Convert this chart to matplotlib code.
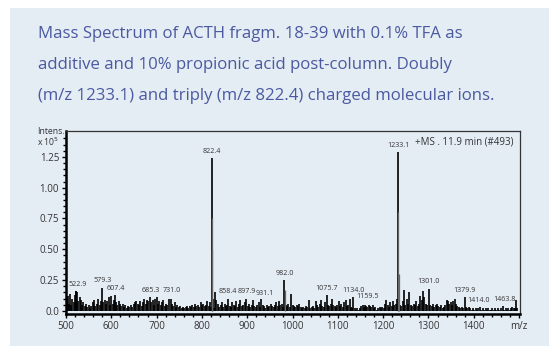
"""
Mass spectrum of ACTH fragment 18-39 (stick plot with labelled peaks)
"""
import numpy as np
import matplotlib
matplotlib.use('Agg')
import matplotlib.pyplot as plt
from matplotlib.patches import Rectangle

PANEL_BG = '#e4ecf4'
TITLE_COLOR = '#4b5aa0'
TEXT_COLOR = '#333333'

TITLE_LINES = [
    'Mass Spectrum of ACTH fragm. 18-39 with 0.1% TFA as',
    'additive and 10% propionic acid post-column. Doubly',
    '(m/z 1233.1) and triply (m/z 822.4) charged molecular ions.',
]

# m/z positions and intensities (x 10^5) of the sticks
mz = [
    501, 503, 505, 507, 509, 511, 514, 517, 519, 521, 523, 525, 527, 530, 533, 535, 538, 541,
    544, 547, 550, 553, 556, 559, 562, 565, 568, 571, 574, 577, 579.3, 582, 585, 588, 591, 594,
    597, 600, 603, 605, 607.4, 610, 613, 616, 619, 622, 625, 628, 631, 634, 637, 640, 643, 646,
    649, 652, 655, 658, 661, 664, 667, 670, 673, 676, 679, 682, 685.3, 688, 691, 694, 697, 700,
    703, 706, 709, 712, 715, 718, 721, 724, 727, 731.0, 734, 737, 740, 743, 746, 749, 752, 755,
    758, 761, 764, 767, 770, 773, 776, 779, 782, 785, 788, 791, 794, 797, 800, 803, 806, 809,
    812, 815, 818, 820, 822.4, 823.7, 826, 829, 832, 835, 838, 841, 844, 847, 850, 853, 856,
    858.4, 861, 864, 867, 870, 873, 876, 879, 882, 885, 888, 891, 894, 897.9, 901, 904, 907,
    910, 913, 916, 919, 922, 925, 928, 931.1, 934, 937, 940, 943, 946, 949, 952, 955, 958, 961,
    964, 967, 970, 973, 976, 979, 982.0, 985, 988, 991, 994, 997, 1000, 1003, 1006, 1009, 1012,
    1015, 1018, 1021, 1024, 1027, 1030, 1033, 1036, 1039, 1042, 1045, 1048, 1051, 1054, 1057,
    1060, 1063, 1066, 1069, 1072, 1075.7, 1078, 1081, 1084, 1087, 1090, 1093, 1096, 1099, 1102,
    1105, 1108, 1111, 1114, 1117, 1120, 1123, 1126, 1129, 1131, 1134.0, 1137, 1140, 1143, 1146,
    1149, 1152, 1155, 1158, 1159.5, 1162, 1165, 1168, 1171, 1174, 1177, 1180, 1183, 1186, 1189,
    1192, 1195, 1198, 1201, 1204, 1207, 1210, 1213, 1216, 1219, 1222, 1225, 1228, 1230, 1233.1,
    1234.6, 1237, 1240, 1243, 1246, 1249, 1252, 1255, 1258, 1261, 1264, 1267, 1270, 1273, 1276,
    1279, 1282, 1285, 1288, 1291, 1294, 1297, 1301.0, 1304, 1307, 1310, 1313, 1316, 1319, 1322,
    1325, 1328, 1331, 1334, 1337, 1340, 1343, 1346, 1349, 1352, 1355, 1358, 1361, 1364, 1367,
    1370, 1373, 1376, 1379.9, 1383, 1386, 1389, 1392, 1395, 1398, 1401, 1404, 1407, 1410, 1414.0,
    1417, 1420, 1423, 1426, 1429, 1432, 1435, 1438, 1441, 1444, 1447, 1450, 1453, 1456, 1459,
    1463.8, 1467, 1470, 1473, 1476, 1479, 1482, 1485, 1488, 1491, 1494, 1496,
]
intensity = [
    0.21, 0.08, 0.12, 0.06, 0.14, 0.05, 0.10, 0.07, 0.13, 0.16, 0.16, 0.15, 0.08, 0.11, 0.09, 0.05, 0.07, 0.04,
    0.06, 0.03, 0.05, 0.02, 0.04, 0.07, 0.09, 0.04, 0.06, 0.10, 0.05, 0.08, 0.19, 0.07, 0.09, 0.06, 0.08, 0.11,
    0.05, 0.12, 0.06, 0.09, 0.13, 0.07, 0.05, 0.08, 0.06, 0.04, 0.06, 0.03, 0.05, 0.02, 0.04, 0.03, 0.05, 0.03,
    0.06, 0.07, 0.08, 0.06, 0.05, 0.08, 0.04, 0.07, 0.10, 0.06, 0.09, 0.08, 0.11, 0.07, 0.09, 0.05, 0.10, 0.11,
    0.06, 0.08, 0.05, 0.07, 0.09, 0.04, 0.06, 0.05, 0.10, 0.10, 0.06, 0.04, 0.07, 0.03, 0.05, 0.03, 0.04, 0.02,
    0.03, 0.02, 0.03, 0.04, 0.02, 0.04, 0.03, 0.05, 0.03, 0.06, 0.04, 0.05, 0.03, 0.07, 0.05, 0.06, 0.04, 0.05,
    0.08, 0.04, 0.07, 0.03, 1.24, 0.10, 0.02, 0.15, 0.09, 0.06, 0.03, 0.05, 0.07, 0.03, 0.06, 0.04, 0.05,
    0.10, 0.04, 0.03, 0.07, 0.05, 0.04, 0.08, 0.03, 0.06, 0.09, 0.04, 0.05, 0.07, 0.10, 0.04, 0.06, 0.03,
    0.05, 0.09, 0.04, 0.03, 0.05, 0.07, 0.03, 0.10, 0.05, 0.04, 0.02, 0.05, 0.03, 0.04, 0.06, 0.04, 0.03, 0.05,
    0.07, 0.04, 0.08, 0.05, 0.06, 0.03, 0.25, 0.05, 0.04, 0.06, 0.03, 0.14, 0.05, 0.04, 0.03, 0.05, 0.04,
    0.06, 0.03, 0.02, 0.03, 0.02, 0.04, 0.03, 0.09, 0.02, 0.03, 0.04, 0.02, 0.08, 0.05, 0.03,
    0.06, 0.09, 0.04, 0.03, 0.07, 0.13, 0.05, 0.04, 0.06, 0.10, 0.05, 0.04, 0.03, 0.05, 0.08,
    0.04, 0.06, 0.03, 0.07, 0.09, 0.04, 0.05, 0.10, 0.03, 0.02, 0.11, 0.02, 0.01, 0.02, 0.01,
    0.02, 0.04, 0.05, 0.03, 0.05, 0.04, 0.03, 0.05, 0.04, 0.03, 0.05, 0.02, 0.03, 0.01, 0.02,
    0.03, 0.02, 0.03, 0.02, 0.06, 0.09, 0.05, 0.03, 0.07, 0.04, 0.08, 0.05, 0.06, 0.10, 1.29,
    0.12, 0.05, 0.04, 0.08, 0.17, 0.05, 0.10, 0.06, 0.15, 0.05, 0.04, 0.06, 0.05, 0.08, 0.04,
    0.06, 0.12, 0.09, 0.16, 0.11, 0.06, 0.05, 0.18, 0.05, 0.04, 0.06, 0.03, 0.05, 0.06, 0.04,
    0.03, 0.05, 0.02, 0.03, 0.05, 0.09, 0.08, 0.06, 0.07, 0.05, 0.08, 0.10, 0.06, 0.04, 0.03,
    0.02, 0.03, 0.02, 0.11, 0.03, 0.02, 0.03, 0.02, 0.01, 0.02, 0.01, 0.02, 0.01, 0.02, 0.03,
    0.01, 0.02, 0.01, 0.02, 0.01, 0.02, 0.01, 0.01, 0.02, 0.01, 0.02, 0.01, 0.02, 0.01, 0.02,
    0.04, 0.01, 0.02, 0.01, 0.02, 0.01, 0.02, 0.03, 0.02, 0.02, 0.09, 0.02,
]

# isotope sticks drawn in grey beside the two molecular ions
iso_mz = [822.8, 823.2, 982.6, 1233.7, 1234.2]
iso_int = [0.75, 0.50, 0.17, 0.80, 0.30]

# labelled peaks: m/z value, label height (x 10^5)
label_mz = [522.9, 579.3, 607.4, 685.3, 731.0, 822.4, 858.4, 897.9, 931.1, 982.0,
            1075.7, 1134.0, 1159.5, 1233.1, 1301.0, 1379.9, 1414.0, 1463.8]
label_y = [0.17, 0.20, 0.14, 0.12, 0.12, 1.25, 0.11, 0.11, 0.10, 0.26,
           0.14, 0.12, 0.07, 1.30, 0.19, 0.12, 0.04, 0.05]
label_dx = [3, 2, 3, 2, 3, 0, -2, 2, 8, 0, 0, 0, 6, 0, 0, 0, -3, 3]

x_ticks = [500, 600, 700, 800, 900, 1000, 1100, 1200, 1300, 1400, 1500]
x_ticklabels = ['500', '600', '700', '800', '900', '1000', '1100', '1200', '1300', '1400', 'm/z']
y_ticks = [0.0, 0.25, 0.50, 0.75, 1.00, 1.25]
y_ticklabels = ['0.0', '0.25', '0.50', '0.75', '1.00', '1.25']

plt.rcParams['font.family'] = ['Open Sans', 'DejaVu Sans']

fig = plt.figure(figsize=(5.49, 3.46), dpi=100)
fig.patches.append(Rectangle((10 / 549, 0), 1, 1 - 8 / 346, transform=fig.transFigure,
                             facecolor=PANEL_BG, edgecolor='none', zorder=-10))

for i, line in enumerate(TITLE_LINES):
    fig.text(38 / 549, 1 - (34 + 31 * i) / 346, line, fontsize=12.1, color=TITLE_COLOR,
             ha='left', va='center')

ax = fig.add_axes([66 / 549, 1 - 314 / 346, 454 / 549, 183 / 346])
ax.set_facecolor('none')
ax.set_zorder(5)

ax.vlines(mz, 0, intensity, color='black', linewidth=1.2)
ax.vlines(iso_mz, 0, iso_int, color='#666666', linewidth=0.9)

for m, h, dx in zip(label_mz, label_y, label_dx):
    ax.annotate(f'{m:.1f}', (m + dx, h), xytext=(0, 1.5), textcoords='offset points',
                ha='center', va='bottom', fontsize=5.1, color=TEXT_COLOR)

ax.set_xlim(500, 1502)
ax.set_ylim(-0.025, 1.46)

ax.set_xticks(x_ticks)
ax.set_xticklabels(x_ticklabels)
ax.set_xticks(np.arange(520, 1500, 20), minor=True)
ax.set_yticks(y_ticks)
ax.set_yticklabels(y_ticklabels)
ax.set_yticks(np.arange(0.05, 1.45, 0.05), minor=True)

ax.tick_params(axis='both', which='major', labelsize=7, labelcolor=TEXT_COLOR,
               length=3, width=1, color='black', pad=2)
ax.tick_params(axis='both', which='minor', length=2, width=1, color='black')

ax.spines['left'].set_linewidth(1.8)
ax.spines['bottom'].set_linewidth(1.8)
ax.spines['top'].set_linewidth(0.9)
ax.spines['right'].set_linewidth(0.9)
ax.spines['top'].set_color('#333333')
ax.spines['right'].set_color('#333333')

ax.text(0.985, 0.94, '+MS . 11.9 min (#493)', transform=ax.transAxes, ha='right',
        va='center', fontsize=7, color=TEXT_COLOR)
fig.text(37 / 549, 1 - 131 / 346, 'Intens.', ha='left', va='center', fontsize=6.2,
         color=TEXT_COLOR)
fig.text(37 / 549, 1 - 142 / 346, r'x 10$^5$', ha='left', va='center', fontsize=6.2,
         color=TEXT_COLOR)

plt.savefig('out.png', dpi=100)
plt.close()
